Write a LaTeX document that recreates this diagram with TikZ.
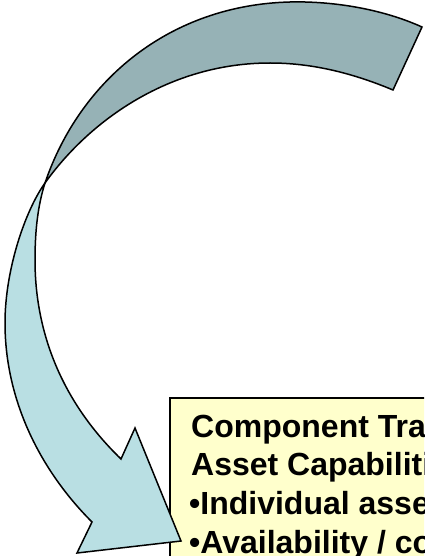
\documentclass[tikz,border=0pt]{standalone}
\usepackage{fontspec}
\setmainfont{Liberation Sans}
\usetikzlibrary{positioning}
\definecolor{backband}{RGB}{150,178,182}
\definecolor{frontband}{RGB}{185,223,227}
\definecolor{notefill}{RGB}{255,255,204}

\begin{document}
\begin{tikzpicture}[x=1pt,y=-1pt,
  band/.style={draw=black, line width=1.5pt},
  noteline/.style={anchor=base west, inner sep=0pt, font=\fontsize{32}{38}\selectfont\bfseries}]
\useasboundingbox (0,0) rectangle (424,556);
\clip (0,0) rectangle (424,556);

% note box, cut by the page edge
\node[draw, line width=1.5pt, fill=notefill, anchor=north west,
      minimum width=300pt, minimum height=200pt] (note) at (169,397) {};

\node[noteline] (l1) at (191,437) {Component Tra};
\node[noteline] (l2) at (191,475) {Asset Capabiliti};
\node[noteline] (l3) at (189,514) {•Individual asse};
\node[noteline] (l4) at (189,553) {•Availability / co};

% back of the twisted arrow
\path[band, fill=backband] (422,27) .. controls (380,8) and (330,1) .. (290,2)
  .. controls (170,5) and (80,80) .. (45,183)
  .. controls (90,120) and (170,63) .. (270,63)
  .. controls (310,63) and (350,72) .. (393,90) -- cycle;

% front of the arrow, with its head
\path[band, fill=frontband] (45,183) .. controls (38,205) and (35,230) .. (35,260)
  .. controls (35,330) and (60,400) .. (121,459)
  -- (135,428) -- (181,541) -- (77,553) -- (92,522)
  .. controls (40,470) and (5,400) .. (5,323)
  .. controls (5,270) and (25,211) .. (45,183) -- cycle;
\end{tikzpicture}
\end{document}
